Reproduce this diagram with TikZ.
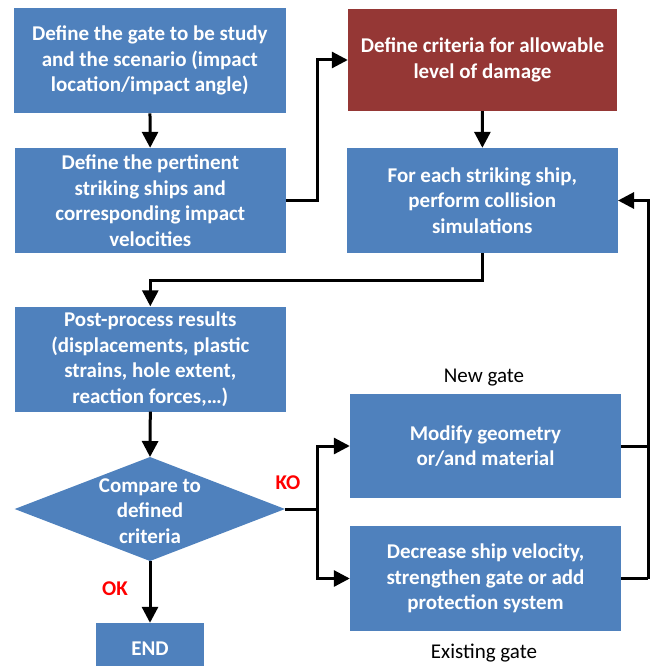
\documentclass[tikz,border=0pt]{standalone}
\usepackage{fontspec}
\setmainfont{Carlito}
\usetikzlibrary{shapes.geometric,arrows.meta}
\definecolor{boxblue}{HTML}{4F81BD}
\definecolor{boxred}{HTML}{953735}
\definecolor{lblred}{HTML}{FF0000}
\begin{document}
\begin{tikzpicture}[x=1pt,y=-1pt,
  box/.style={rectangle, fill=boxblue, text=white, font=\bfseries\fontsize{21}{25.5}\selectfont, align=center, inner sep=0pt, minimum width=271pt, minimum height=105pt},
  redbox/.style={box, fill=boxred},
  decisiontext/.style={text=white, font=\bfseries\fontsize{21}{25.5}\selectfont, align=center, inner sep=0pt},
  conn/.style={line width=3pt},
  arr/.style={line width=3pt, -{Triangle[width=16pt,length=16pt]}},
  note/.style={font=\fontsize{21}{25.5}\selectfont},
  flag/.style={font=\bfseries\fontsize{21}{25.5}\selectfont, text=lblred}
]
\useasboundingbox (0,0) rectangle (651,666);

\node[box, minimum width=272.5pt] (b1) at (149.8,60.7) {Define the gate to be study\\and the scenario (impact\\location/impact angle)};
\node[box] (b2) at (150.3,200.5) {Define the pertinent\\striking ships and\\corresponding impact\\velocities};
\node[redbox, minimum width=269pt, minimum height=102pt] (red) at (482.5,60) {Define criteria for allowable\\level of damage};
\node[box] (b4) at (482.3,200.5) {For each striking ship,\\perform collision\\simulations};
\node[box] (b5) at (150.3,359) {Post-process results\\(displacements, plastic\\strains, hole extent,\\reaction forces,…)};

% decision diamond
\coordinate (diatop) at (150,457);
\coordinate (diaright) at (285,509);
\coordinate (diabottom) at (150,561);
\coordinate (dialeft) at (14.7,509);
\fill[boxblue] (diatop) -- (diaright) -- (diabottom) -- (dialeft) -- cycle;
\node[decisiontext] (dia) at (150,511) {Compare to\\defined\\criteria};

\node[box, minimum height=104pt] (b7) at (485.5,446) {Modify geometry\\or/and material};
\node[box] (b8) at (485.5,578.5) {Decrease ship velocity,\\strengthen gate or add\\protection system};
\node[box, minimum width=107.5pt, minimum height=52pt] (end) at (150,649) {END};

\node[note] (newgate) at (484,378) {New gate};
\node[note] (existgate) at (484,653) {Existing gate};
\node[flag] (ko) at (288,483) {KO};
\node[flag] (ok) at (115,589) {OK};

\draw[arr] (b1) -- (b2);
\draw[arr] (b2.east) -- ++(31,0) |- (red.west);
\draw[arr] (red) -- (b4);
\draw[arr] (b4.south) -- ++(0,27) -| (b5.north);
\draw[arr] (b5.south) -- (diatop);
\draw[conn] (diaright) -- ++(32,0) coordinate (split);
\draw[arr] (split) |- (b7.west);
\draw[arr] (split) |- (b8.west);
\draw[conn] (b8.east) -- ++(27,0) coordinate (ret);
\draw[arr] (ret) |- (b4.east);
\draw[conn] (b7.east) -- (b7.east -| ret);
\draw[arr] (diabottom) -- (end.north);
\end{tikzpicture}
\end{document}
